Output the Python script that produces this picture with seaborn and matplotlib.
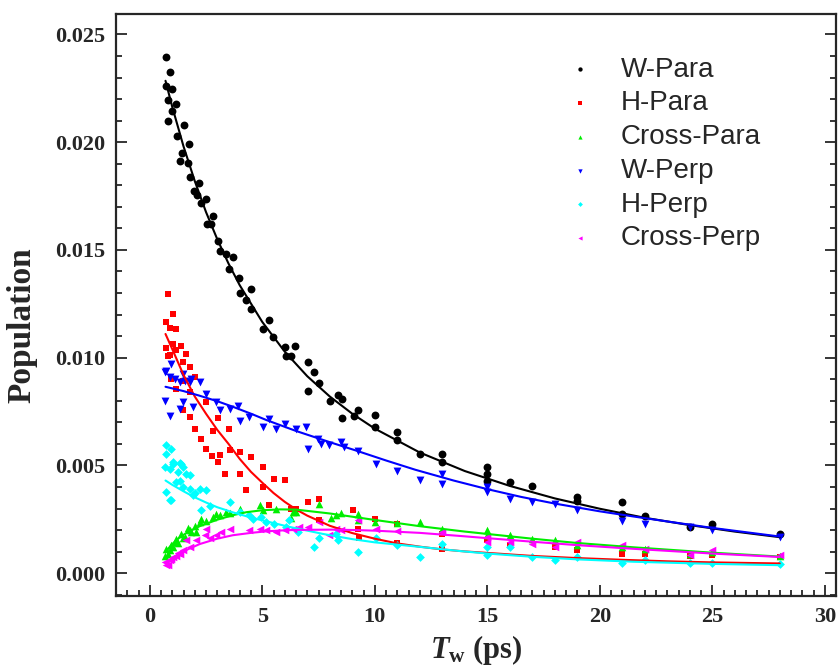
import numpy as np
import pandas as pd
import matplotlib
matplotlib.use("Agg")
import matplotlib.pyplot as plt
from matplotlib.ticker import MultipleLocator, FormatStrFormatter
import seaborn as sns

# ---------------- data ----------------
series_names = ["W-Para", "H-Para", "Cross-Para", "W-Perp", "H-Perp", "Cross-Perp"]

wpara_x = [0.70, 0.92, 0.70, 1.00, 0.81, 1.18, 1.00, 0.82, 1.50, 1.23,
           1.76, 1.42, 1.33, 1.68, 1.80, 2.20, 1.97, 2.10, 2.48, 2.29,
           2.81, 2.54, 2.74, 3.03, 3.12, 3.40, 3.69, 3.52, 3.98, 4.51,
           4.02, 4.29, 4.51, 5.31, 5.02, 5.49, 6.47, 5.99, 6.06, 6.28,
           7.02, 7.32, 7.53, 7.02, 8.01, 8.36, 8.54, 8.54, 9.24, 9.06,
           10.02, 10.02, 11.0, 11.0, 12.0, 13.0, 13.0, 15.0, 15.0, 15.0,
           16.0, 17.0, 19.0, 19.0, 21.0, 21.0, 22.0, 24.0, 25.0, 28.0]
wpara_y = [0.02395, 0.02325, 0.02259, 0.02249, 0.02194, 0.02175, 0.02147, 0.02097, 0.02082, 0.02030,
           0.01990, 0.01950, 0.01912, 0.01904, 0.01840, 0.01810, 0.01773, 0.01753, 0.01735, 0.01716,
           0.01657, 0.01619, 0.01619, 0.01542, 0.01495, 0.01483, 0.01468, 0.01412, 0.01369, 0.01318,
           0.01302, 0.01269, 0.01225, 0.01177, 0.01133, 0.01094, 0.01054, 0.01048, 0.01009, 0.01009,
           0.00981, 0.00932, 0.00881, 0.00847, 0.00801, 0.00826, 0.00809, 0.00721, 0.00759, 0.00731,
           0.00734, 0.00679, 0.00654, 0.00618, 0.00553, 0.00551, 0.00516, 0.00494, 0.00460, 0.00426,
           0.00423, 0.00406, 0.00353, 0.00336, 0.00330, 0.00276, 0.00266, 0.00214, 0.00228, 0.00180]

hpara_x = [0.70, 0.71, 0.81, 0.81, 0.89, 0.92, 0.96, 1.03, 1.03, 1.18,
           1.18, 1.18, 1.41, 1.48, 1.48, 1.48, 1.60, 1.77, 1.77, 1.80,
           2.00, 2.00, 2.29, 2.51, 2.51, 2.78, 2.81, 3.03, 3.03, 3.10,
           3.33, 3.52, 3.55, 3.99, 3.99, 4.29, 4.51, 5.02, 5.02, 5.32,
           5.54, 5.99, 6.28, 6.50, 7.02, 7.51, 7.51, 9.02, 9.24, 9.31,
           10.02, 11.0, 11.0, 13.0, 13.0, 15.0, 16.0, 18.0, 19.0, 21.0,
           22.0, 24.0, 25.0, 28.0]
hpara_y = [0.01167, 0.01045, 0.01295, 0.01009, 0.01014, 0.01140, 0.00901, 0.01205, 0.01063, 0.01135,
           0.01036, 0.00855, 0.01056, 0.00978, 0.00894, 0.00755, 0.01017, 0.00839, 0.00724, 0.00958,
           0.00909, 0.00670, 0.00624, 0.00793, 0.00577, 0.00542, 0.00662, 0.00721, 0.00515, 0.00549,
           0.00458, 0.00670, 0.00573, 0.00562, 0.00458, 0.00384, 0.00538, 0.00492, 0.00400, 0.00315,
           0.00436, 0.00434, 0.00300, 0.00296, 0.00330, 0.00343, 0.00245, 0.00293, 0.00207, 0.00161,
           0.00250, 0.00230, 0.00138, 0.00184, 0.00110, 0.00153, 0.00130, 0.00122, 0.00106, 0.00088,
           0.00088, 0.00080, 0.00083, 0.00075]

cpara_x = [0.67, 0.74, 0.81, 0.89, 0.96, 1.03, 1.11, 1.18, 1.25, 1.41,
           1.48, 1.55, 1.70, 1.77, 1.85, 2.00, 2.07, 2.22, 2.29, 2.51,
           2.81, 2.96, 3.10, 3.40, 3.55, 3.99, 4.88, 5.02, 5.62, 6.28,
           6.36, 6.50, 7.51, 8.06, 8.28, 8.50, 9.24, 9.24, 10.02, 11.0,
           12.0, 13.0, 15.0, 15.0, 16.0, 17.0, 18.0, 19.0, 21.0, 22.0,
           24.0, 25.0, 28.0]
cpara_y = [0.00080, 0.00110, 0.00090, 0.00106, 0.00130, 0.00120, 0.00145, 0.00160, 0.00140, 0.00180,
           0.00161, 0.00170, 0.00210, 0.00199, 0.00190, 0.00220, 0.00191, 0.00238, 0.00250, 0.00240,
           0.00260, 0.00276, 0.00270, 0.00284, 0.00280, 0.00300, 0.00315, 0.00295, 0.00300, 0.00258,
           0.00284, 0.00284, 0.00321, 0.00258, 0.00269, 0.00279, 0.00276, 0.00245, 0.00238, 0.00235,
           0.00238, 0.00207, 0.00199, 0.00176, 0.00176, 0.00160, 0.00153, 0.00130, 0.00122, 0.00114,
           0.00091, 0.00099, 0.00079]

wperp_x = [0.67, 0.70, 0.89, 0.96, 1.11, 1.33, 1.48, 1.55, 1.77, 1.85,
           2.22, 0.67, 0.89, 1.33, 1.48, 1.92, 2.51, 2.96, 3.10, 3.55,
           3.92, 3.99, 4.43, 5.02, 5.32, 5.62, 5.99, 6.50, 6.95, 7.02,
           7.46, 7.61, 7.98, 8.50, 8.65, 9.24, 10.05, 11.0, 12.0, 13.0,
           13.0, 15.0, 15.0, 16.0, 17.0, 18.0, 19.0, 21.0, 22.0, 24.0,
           25.0, 28.0]
wperp_y = [0.00932, 0.00940, 0.00909, 0.00972, 0.00901, 0.00886, 0.00925, 0.00894, 0.00886, 0.00901,
           0.00886, 0.00801, 0.00731, 0.00762, 0.00793, 0.00770, 0.00832, 0.00793, 0.00755, 0.00762,
           0.00778, 0.00708, 0.00723, 0.00677, 0.00716, 0.00670, 0.00693, 0.00670, 0.00677, 0.00577,
           0.00624, 0.00600, 0.00593, 0.00608, 0.00585, 0.00569, 0.00508, 0.00473, 0.00431, 0.00458,
           0.00415, 0.00400, 0.00378, 0.00346, 0.00330, 0.00319, 0.00292, 0.00242, 0.00230, 0.00215,
           0.00198, 0.00166]

hperp_x = [0.74, 0.96, 0.70, 1.03, 1.41, 1.25, 1.63, 0.70, 0.96, 1.33,
           1.77, 2.22, 2.51, 2.29, 3.55, 3.99, 4.58, 6.06, 7.32, 8.28,
           9.24, 10.05, 0.67, 0.89, 1.48, 1.18, 1.77, 1.92, 0.89, 4.43,
           4.95, 5.17, 5.54, 6.21, 6.58, 7.54, 8.35, 11.0, 12.0, 13.0,
           15.0, 15.0, 16.0, 17.0, 18.0, 19.0, 21.0, 22.0, 24.0, 25.0,
           28.0, 1.48, 1.03, 1.33, 2.00, 2.66]
hperp_y = [0.00593, 0.00577, 0.00554, 0.00508, 0.00508, 0.00469, 0.00461, 0.00376, 0.00338, 0.00430,
           0.00392, 0.00392, 0.00384, 0.00292, 0.00330, 0.00284, 0.00253, 0.00214, 0.00123, 0.00184,
           0.00099, 0.00161, 0.00492, 0.00485, 0.00492, 0.00423, 0.00454, 0.00361, 0.00338, 0.00269,
           0.00261, 0.00238, 0.00230, 0.00245, 0.00191, 0.00161, 0.00153, 0.00130, 0.00075, 0.00137,
           0.00122, 0.00083, 0.00122, 0.00075, 0.00063, 0.00075, 0.00045, 0.00063, 0.00045, 0.00045,
           0.00042, 0.00400, 0.00515, 0.00511, 0.00370, 0.00310]

cperp_x = [0.67, 0.81, 0.96, 1.18, 1.33, 1.48, 1.77, 1.63, 2.07, 2.44,
           2.66, 2.96, 3.18, 3.55, 2.51, 4.88, 5.17, 5.62, 4.43, 6.36,
           5.99, 6.65, 7.54, 8.28, 9.24, 10.05, 11.0, 7.02, 7.98, 8.50,
           13.0, 15.0, 15.0, 16.0, 17.0, 18.0, 19.0, 21.0, 22.0, 24.0,
           25.0, 28.0, 0.74, 0.89, 1.03, 1.25]
cperp_y = [0.00052, 0.00037, 0.00068, 0.00079, 0.00091, 0.00106, 0.00122, 0.00153, 0.00153, 0.00176,
           0.00161, 0.00176, 0.00191, 0.00207, 0.00207, 0.00207, 0.00199, 0.00191, 0.00199, 0.00207,
           0.00199, 0.00214, 0.00238, 0.00207, 0.00245, 0.00207, 0.00197, 0.00214, 0.00176, 0.00202,
           0.00191, 0.00168, 0.00145, 0.00145, 0.00137, 0.00122, 0.00145, 0.00130, 0.00114, 0.00083,
           0.00106, 0.00083, 0.00040, 0.00060, 0.00075, 0.00095]

# fitted curves
wpara_fit_x = [0.7, 1, 1.5, 2, 2.5, 3, 3.5, 4, 5, 6, 7, 8, 9, 10, 12, 14, 16, 18, 20, 22, 24, 26, 28]
wpara_fit_y = [0.02285, 0.02164, 0.01981, 0.0182, 0.01676, 0.0155, 0.01437, 0.01336, 0.01166, 0.01028,
               0.00914, 0.0082, 0.0074, 0.00671, 0.0056, 0.00474, 0.00405, 0.00347, 0.00299, 0.00257,
               0.00223, 0.00193, 0.00167]
hpara_fit_x = [0.7, 1, 1.5, 2, 2.5, 3, 3.5, 4, 4.5, 5, 5.5, 6, 6.5, 7, 8, 9, 10, 11, 12, 13, 14, 15,
               17, 19, 21, 23, 25, 28]
hpara_fit_y = [0.0111, 0.0104, 0.0092, 0.0082, 0.0074, 0.00665, 0.0060, 0.0053, 0.0047, 0.0042, 0.00372,
               0.00331, 0.00296, 0.00267, 0.0022, 0.00186, 0.0016, 0.00138, 0.00123, 0.0011, 0.00101,
               0.00094, 0.0008, 0.0007, 0.00062, 0.00055, 0.0005, 0.00045]
cpara_fit_x = [0.7, 1.0, 1.33, 1.7, 2.22, 3.0, 3.69, 4.3, 5.0, 5.8, 6.5, 8.0, 9.0, 10.0, 12.0, 14.0,
               15.0, 17.0, 19.0, 21.5, 25.0, 28.0]
cpara_fit_y = [0.00099, 0.00135, 0.00166, 0.00191, 0.00218, 0.00248, 0.00269, 0.00283, 0.00292, 0.00296,
               0.00295, 0.00277, 0.00262, 0.00247, 0.00218, 0.00193, 0.00182, 0.0016, 0.0014, 0.0012,
               0.00095, 0.00077]
wperp_fit_x = [0.7, 1.5, 2.2, 3.0, 3.7, 4.5, 5.2, 6.5, 8.0, 9.2, 10.5, 11.8, 13.5, 15, 16.5, 18, 20,
               21.5, 23, 25, 26.5, 28]
wperp_fit_y = [0.00865, 0.00845, 0.00824, 0.00798, 0.00772, 0.0074, 0.0071, 0.0066, 0.00608, 0.00568,
               0.00523, 0.0048, 0.0043, 0.0039, 0.00354, 0.00323, 0.00287, 0.00263, 0.0024, 0.0021,
               0.0019, 0.0017]
hperp_fit_x = [0.7, 1.0, 1.5, 2.0, 2.5, 3.0, 3.7, 4.5, 5.2, 6.2, 7.7, 9.0, 10.0, 12.0, 13.75, 15, 17,
               19, 21.5, 25, 28]
hperp_fit_y = [0.0043, 0.0041, 0.0038, 0.00352, 0.00328, 0.00306, 0.00282, 0.00258, 0.0024, 0.00215,
               0.00182, 0.00158, 0.00143, 0.00122, 0.00103, 0.00091, 0.00076, 0.00064, 0.00053,
               0.00043, 0.00037]
cperp_fit_x = [0.7, 1.0, 1.33, 1.7, 2.22, 3.0, 3.69, 4.5, 5.17, 6.0, 6.65, 8.13, 9.17, 10.05, 12.0,
               13.75, 15.05, 17.0, 19.0, 21.5, 25.0, 28.0]
cperp_fit_y = [0.00045, 0.00068, 0.0009, 0.00111, 0.00135, 0.0016, 0.00176, 0.00187, 0.00194, 0.00199,
               0.00201, 0.00202, 0.002, 0.00197, 0.00187, 0.00173, 0.00162, 0.00146, 0.0013, 0.00113,
               0.00091, 0.00075]

x_ticks = [0, 5, 10, 15, 20, 25, 30]
y_ticks = [0.000, 0.005, 0.010, 0.015, 0.020, 0.025]

# ---------------- style ----------------
sns.set_style("ticks")
plt.rcParams["font.family"] = ["Liberation Serif", "DejaVu Serif"]
plt.rcParams["mathtext.fontset"] = "custom"
plt.rcParams["mathtext.rm"] = "Liberation Serif:bold"
plt.rcParams["mathtext.it"] = "Liberation Serif:bold:italic"
plt.rcParams["mathtext.bf"] = "Liberation Serif:bold"

colors = ["#000000", "#ff0000", "#00ee00", "#0000ff", "#00ffff", "#ff00ff"]
markers = ["o", "s", "^", "v", "D", "<"]
sizes = [32, 24, 30, 32, 20, 30]

data_sets = [(wpara_x, wpara_y), (hpara_x, hpara_y), (cpara_x, cpara_y),
             (wperp_x, wperp_y), (hperp_x, hperp_y), (cperp_x, cperp_y)]
fit_sets = [(wpara_fit_x, wpara_fit_y), (hpara_fit_x, hpara_fit_y), (cpara_fit_x, cpara_fit_y),
            (wperp_fit_x, wperp_fit_y), (hperp_fit_x, hperp_fit_y), (cperp_fit_x, cperp_fit_y)]

fig = plt.figure(figsize=(8.38, 6.69), dpi=100)
ax = fig.add_axes([116 / 838, 73 / 669, 720 / 838, 582 / 669])

for name, (xs, ys), col, mk, sz in zip(series_names, data_sets, colors, markers, sizes):
    df = pd.DataFrame({"Tw": xs, "Population": ys})
    sns.scatterplot(data=df, x="Tw", y="Population", ax=ax, color=col, marker=mk,
                    s=sz, linewidth=0, label=name, zorder=3)

for name, (xs, ys), col in zip(series_names, fit_sets, colors):
    dff = pd.DataFrame({"Tw": xs, "Population": ys})
    sns.lineplot(data=dff, x="Tw", y="Population", ax=ax, color=col, lw=1.5,
                 sort=False, estimator=None, legend=False, zorder=4)

ax.set_xlim(-1.5, 30.5)
ax.set_ylim(-0.00106, 0.02595)
ax.set_xticks(x_ticks)
ax.set_yticks(y_ticks)
ax.xaxis.set_minor_locator(MultipleLocator(0.5))
ax.yaxis.set_minor_locator(MultipleLocator(0.001))
ax.yaxis.set_major_formatter(FormatStrFormatter("%.3f"))

for sp in ax.spines.values():
    sp.set_linewidth(1.6)
    sp.set_visible(True)
ax.tick_params(which="both", direction="in", top=False, right=True, width=1.3)
ax.tick_params(which="major", length=8, pad=8, labelsize=16)
ax.tick_params(which="minor", length=4.5)
for lab in ax.get_xticklabels() + ax.get_yticklabels():
    lab.set_fontweight("bold")
    lab.set_family("Liberation Serif")

ax.set_xlabel(r"$T_{\rm w}$ (ps)", fontsize=22, fontweight="bold", labelpad=4)
ax.set_ylabel("Population", fontsize=24, fontweight="bold")
ax.yaxis.set_label_coords(-0.109, 0.466)

leg = ax.legend(loc="upper left", bbox_to_anchor=(0.61, 0.946), frameon=False,
                prop={"family": "Liberation Sans", "size": 20}, handlelength=1.0,
                handletextpad=0.95, labelspacing=0.28, markerscale=0.55,
                borderaxespad=0, borderpad=0.4)

fig.savefig("out.png", dpi=100)
